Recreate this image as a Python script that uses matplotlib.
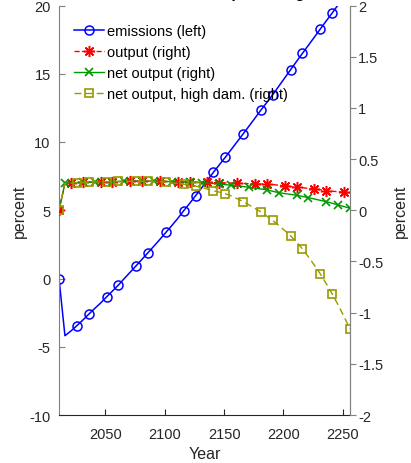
import numpy as np
import matplotlib
matplotlib.use("Agg")
import matplotlib.pyplot as plt
from matplotlib.ticker import FuncFormatter

plt.rcParams['font.family'] = ['Liberation Sans', 'DejaVu Sans']
plt.rcParams['axes.unicode_minus'] = False

# model periods, 5-year steps
years = np.arange(2011, 2257, 5)

# emissions change, percent (left axis)
emissions = [0.0, -4.19, -3.85, -3.46, -3.05, -2.62, -2.2, -1.8, -1.35, -0.92,
             -0.48, 0.0, 0.47, 0.94, 1.42, 1.9, 2.38, 2.87, 3.38, 3.88,
             4.4, 4.97, 5.5, 6.07, 6.63, 7.2, 7.78, 8.33, 8.88, 9.45,
             10.02, 10.59, 11.17, 11.75, 12.34, 12.9, 13.47, 14.08, 14.69, 15.3,
             15.9, 16.5, 17.09, 17.68, 18.28, 18.87, 19.45, 20.05, 20.65, 21.25]

# output change, percent (right axis)
output = [0.0, 0.262, 0.266, 0.27, 0.272, 0.274, 0.276, 0.278, 0.279, 0.28,
          0.281, 0.282, 0.283, 0.284, 0.284, 0.284, 0.283, 0.282, 0.281, 0.28,
          0.279, 0.278, 0.277, 0.276, 0.275, 0.273, 0.27, 0.268, 0.267, 0.266,
          0.265, 0.262, 0.26, 0.257, 0.256, 0.254, 0.25, 0.245, 0.24, 0.232,
          0.225, 0.22, 0.214, 0.208, 0.2, 0.192, 0.186, 0.181, 0.176, 0.17]

net_output = [0.0, 0.262, 0.266, 0.27, 0.272, 0.274, 0.276, 0.278, 0.279, 0.28,
              0.281, 0.282, 0.283, 0.284, 0.284, 0.284, 0.283, 0.282, 0.281, 0.28,
              0.279, 0.277, 0.274, 0.271, 0.268, 0.265, 0.261, 0.257, 0.25, 0.245,
              0.238, 0.232, 0.225, 0.216, 0.208, 0.2, 0.185, 0.172, 0.163, 0.155,
              0.147, 0.135, 0.123, 0.11, 0.097, 0.084, 0.068, 0.052, 0.036, 0.02]

net_output_high = [0.0, 0.262, 0.266, 0.27, 0.272, 0.274, 0.276, 0.278, 0.279, 0.28,
                   0.281, 0.282, 0.283, 0.284, 0.284, 0.283, 0.281, 0.278, 0.274, 0.268,
                   0.262, 0.254, 0.246, 0.236, 0.222, 0.207, 0.19, 0.177, 0.162, 0.14,
                   0.113, 0.085, 0.052, 0.018, -0.016, -0.058, -0.1, -0.148, -0.198, -0.25,
                   -0.312, -0.378, -0.455, -0.537, -0.622, -0.717, -0.817, -0.925, -1.04, -1.159]

# marker positions, staggered so the flat series don't pile up
n = len(years)
mk = np.round(np.linspace(0, n - 1, 20)).astype(int)
mk_red = list(np.clip(mk - 1, 0, n - 1))
mk_green = list(np.clip(mk + 1, 0, n - 1))
mk = list(mk)

fig = plt.figure(figsize=(4.11, 4.64), dpi=100)
ax1 = fig.add_axes([59/411, 1 - 416/464, 291/411, 409.5/464])
ax2 = ax1.twinx()

h1, = ax1.plot(years, emissions, '-', color=(0, 0, 1), lw=1.1, marker='o',
               ms=6.5, mfc='none', mew=1.1, markevery=mk, label='emissions (left)')
h2, = ax2.plot(years, output, '--', color=(1, 0, 0), lw=1.0, marker=(8, 2, 0),
               ms=8, mew=1.1, markevery=mk_red, label='output (right)')
h3, = ax2.plot(years, net_output, '-', color=(0, 0.6, 0), lw=1.0, marker='x',
               ms=5.5, mew=1.2, markevery=mk_green, label='net output (right)')
h4, = ax2.plot(years, net_output_high, '--', color=(0.6, 0.6, 0), lw=1.0, marker='s',
               ms=5.5, mfc='none', mew=1.2, markevery=mk, dashes=(5, 3),
               label='net output, high dam. (right)')

ax1.set_xlim(2011, 2256)
ax1.set_ylim(-10, 20)
ax2.set_ylim(-2, 2)
ax1.set_xticks([2050, 2100, 2150, 2200, 2250])
ax1.set_yticks([-10, -5, 0, 5, 10, 15, 20])
ax2.set_yticks([-2, -1.5, -1, -0.5, 0, 0.5, 1, 1.5, 2])
ax2.yaxis.set_major_formatter(FuncFormatter(lambda v, p: '%g' % v))

tc = '#262626'
for ax in (ax1, ax2):
    ax.spines['top'].set_visible(False)
    ax.spines['left'].set_color('#808080')
    ax.spines['right'].set_color('#808080')
    ax.spines['bottom'].set_color(tc)
    ax.tick_params(labelsize=10.5, colors=tc, length=4, width=0.8)
ax1.tick_params(axis='y', direction='in', colors='#808080', labelcolor=tc, pad=6)
ax1.tick_params(axis='x', direction='in', pad=9)
ax2.tick_params(axis='y', direction='out', colors='#808080', labelcolor=tc, pad=2)
ax2.spines['left'].set_visible(False)
ax2.spines['bottom'].set_visible(False)

ax1.set_xlabel('Year', fontsize=11.5, color=tc, labelpad=3)
ax1.set_ylabel('percent', fontsize=11.5, color=tc, labelpad=2)
ax2.set_ylabel('percent', fontsize=11.5, color=tc, labelpad=7)

# title sits above the figure edge, only its lower part shows
fig.text(0.4976, 1 + 1.5/464, 'Emissions and output change', ha='center', va='baseline',
         fontsize=11, fontweight='bold', color='black')

ax2.legend(handles=[h1, h2, h3, h4], loc='upper left', bbox_to_anchor=(0.03, 0.968),
           frameon=False, fontsize=10.5, handlelength=2.1, handletextpad=0.2,
           labelspacing=0.48, borderpad=0.4, borderaxespad=0)

fig.savefig('out.png', dpi=100)
